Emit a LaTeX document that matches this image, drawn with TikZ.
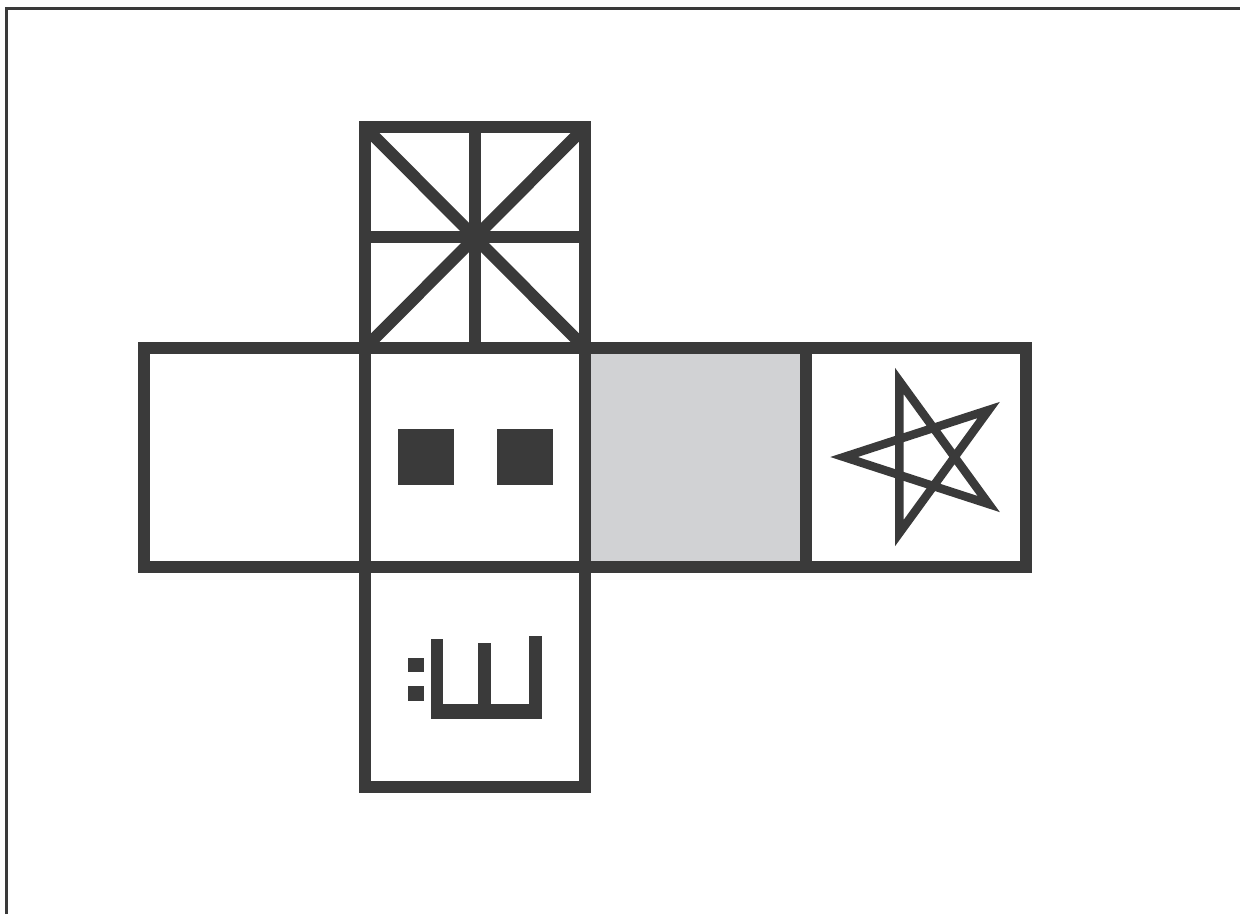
\documentclass[tikz,border=0pt]{standalone}
\usetikzlibrary{calc}
\definecolor{ink}{HTML}{3A3A3A}
\definecolor{facegray}{HTML}{D1D2D4}
\begin{document}
\begin{tikzpicture}[x=1pt,y=-1pt,
  facebox/.style={draw=ink,line width=12pt,line join=miter},
  thinline/.style={draw=ink,line width=12pt,line cap=butt},
  starline/.style={draw=ink,line width=8.5pt,line join=miter,miter limit=20},
  blob/.style={fill=ink,draw=none}]
\useasboundingbox (0,0) rectangle (1240,914);
\fill[white] (0,0) rectangle (1240,914);
% outer frame
\draw[ink,line width=3pt] (6,914) -- (6,8) -- (1240,8);
% gray face
\fill[facegray] (585,348) rectangle (806,567);
% top face
\draw[thinline] (475,127) -- (475,348);
\draw[thinline] (365,237) -- (585,237);
\draw[thinline] (365,127) -- (585,348);
\draw[thinline] (585,127) -- (365,348);
\draw[facebox] (365,127) rectangle (585,348);
% middle row
\draw[facebox] (144,348) rectangle (365,567);
\draw[facebox] (365,348) rectangle (585,567);
\draw[facebox] (585,348) rectangle (806,567);
\draw[facebox] (806,348) rectangle (1026,567);
% bottom face
\draw[facebox] (365,567) rectangle (585,787);
% two dots
\fill[blob] (398,429) rectangle (454,485);
\fill[blob] (497,429) rectangle (553,485);
% star
\coordinate (sc) at (924,457);
\draw[starline] ($(sc)+(180:80)$)
  -- ($(sc)+(36:80)$) -- ($(sc)+(252:80)$) -- ($(sc)+(108:80)$) -- ($(sc)+(324:80)$) -- cycle;
% glyph
\fill[blob] (431,639) rectangle (443,719);
\fill[blob] (478,643) rectangle (491,719);
\fill[blob] (529,636) rectangle (542,719);
\fill[blob] (431,704) rectangle (542,719);
\fill[blob] (408,658) rectangle (424,672);
\fill[blob] (408,686) rectangle (424,701);
\end{tikzpicture}
\end{document}
